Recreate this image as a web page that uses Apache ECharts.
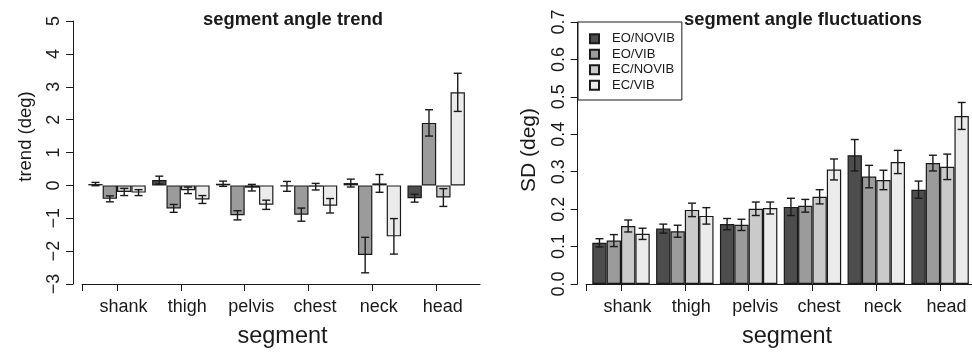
<!DOCTYPE html>
<html>
<head>
<meta charset="utf-8">
<script src="https://cdn.jsdelivr.net/npm/echarts@6/dist/echarts.min.js"></script>
<style>
  html, body { margin: 0; padding: 0; background: #fff; }
  #chart { width: 972px; height: 353px; }
</style>
</head>
<body>
<div id="chart"></div>
<script>
// Body segments and experimental conditions
const segments = ['shank', 'thigh', 'pelvis', 'chest', 'neck', 'head'];
const conditions = ['EO/NOVIB', 'EO/VIB', 'EC/NOVIB', 'EC/VIB'];

// Segment angle trend (deg): means and standard errors per condition
const trendEoNovib    = [0.04, 0.16, 0.05, -0.03, 0.07, -0.39];
const trendEoNovibErr = [0.05, 0.12, 0.08, 0.15, 0.12, 0.12];
const trendEoVib      = [-0.41, -0.70, -0.91, -0.89, -2.12, 1.90];
const trendEoVibErr   = [0.09, 0.12, 0.14, 0.20, 0.54, 0.40];
const trendEcNovib    = [-0.20, -0.15, -0.07, -0.04, 0.06, -0.37];
const trendEcNovibErr = [0.11, 0.10, 0.10, 0.10, 0.27, 0.27];
const trendEcVib      = [-0.22, -0.43, -0.59, -0.62, -1.55, 2.83];
const trendEcVibErr   = [0.09, 0.12, 0.14, 0.22, 0.54, 0.58];

// Segment angle fluctuations, SD (deg): means and standard errors per condition
const sdEoNovib    = [0.110, 0.148, 0.160, 0.206, 0.344, 0.252];
const sdEoNovibErr = [0.011, 0.012, 0.015, 0.023, 0.042, 0.023];
const sdEoVib      = [0.116, 0.141, 0.158, 0.209, 0.287, 0.323];
const sdEoVibErr   = [0.016, 0.016, 0.015, 0.017, 0.030, 0.021];
const sdEcNovib    = [0.155, 0.198, 0.201, 0.233, 0.278, 0.313];
const sdEcNovibErr = [0.016, 0.018, 0.018, 0.019, 0.026, 0.034];
const sdEcVib      = [0.134, 0.182, 0.203, 0.306, 0.326, 0.449];
const sdEcVibErr   = [0.015, 0.022, 0.016, 0.028, 0.031, 0.036];

// Axis ticks
const trendTicks = { min: -3, max: 5, interval: 1 };
const sdTicks = { min: 0, max: 0.7, interval: 0.1 };

const FONT = 'Liberation Sans, Arial, Helvetica, sans-serif';
const INK = '#1a1a1a';
const fills = ['#4d4d4d', '#9b9b9b', '#cacaca', '#ebebeb'];
const CAT_GAP = 0.10;   // fraction of each category band left empty

const trendMeans = [trendEoNovib, trendEoVib, trendEcNovib, trendEcVib];
const trendErrs = [trendEoNovibErr, trendEoVibErr, trendEcNovibErr, trendEcVibErr];
const sdMeans = [sdEoNovib, sdEoVib, sdEcNovib, sdEcVib];
const sdErrs = [sdEoNovibErr, sdEoVibErr, sdEcNovibErr, sdEcVibErr];

function barSeries(axis, idx, values) {
  return {
    name: conditions[idx],
    type: 'bar',
    xAxisIndex: axis, yAxisIndex: axis,
    data: values,
    barGap: '0%',
    barCategoryGap: (CAT_GAP * 100) + '%',
    itemStyle: { color: fills[idx], borderColor: INK, borderWidth: 1.2 },
    emphasis: { disabled: true },
    silent: true,
    z: 2
  };
}

function errorSeries(axis, idx, values, errs) {
  return {
    type: 'custom',
    xAxisIndex: axis, yAxisIndex: axis,
    data: values.map((v, i) => [i, v - errs[i], v + errs[i]]),
    silent: true,
    z: 5,
    renderItem(params, api) {
      const band = api.size([1, 0])[0];
      const bw = band * (1 - CAT_GAP) / 4;
      const lo = api.coord([api.value(0), api.value(1)]);
      const hi = api.coord([api.value(0), api.value(2)]);
      const x = lo[0] + (idx - 1.5) * bw;
      const cap = 4;
      const style = { stroke: INK, lineWidth: 1.4 };
      return {
        type: 'group',
        children: [
          { type: 'line', shape: { x1: x, y1: lo[1], x2: x, y2: hi[1] }, style },
          { type: 'line', shape: { x1: x - cap, y1: lo[1], x2: x + cap, y2: lo[1] }, style },
          { type: 'line', shape: { x1: x - cap, y1: hi[1], x2: x + cap, y2: hi[1] }, style }
        ]
      };
    }
  };
}

const axisLine = { show: true, lineStyle: { color: INK, width: 1 } };
const tickStyle = { show: true, length: 7, inside: false, lineStyle: { color: INK, width: 1 } };

function valueY(gridIndex, ticks, name, offset, nameSize, namePad) {
  return {
    type: 'value', gridIndex,
    min: ticks.min, max: ticks.max, interval: ticks.interval,
    offset,
    axisLine, axisTick: tickStyle,
    splitLine: { show: false },
    axisLabel: {
      rotate: 90, fontSize: 18, fontFamily: FONT, color: INK, margin: 10,
      formatter: v => ticks.interval < 1 ? v.toFixed(1) : String(v).replace('-', '\u2212')
    },
    name, nameLocation: 'middle', nameGap: 38,
    nameTextStyle: { fontSize: nameSize, fontFamily: FONT, color: INK, padding: namePad }
  };
}

function categoryX(gridIndex) {
  return {
    type: 'category', gridIndex, data: segments,
    position: 'bottom',
    axisLine: { show: false, onZero: false },
    axisTick: Object.assign({ alignWithLabel: true }, tickStyle),
    axisLabel: { fontSize: 18, fontFamily: FONT, color: INK, margin: 14, padding: [0, 0, 0, 13] },
    splitLine: { show: false }
  };
}

// Plain axis line with a single tick at its start
function frameX(gridIndex) {
  return {
    type: 'value', gridIndex, min: 0, max: 1,
    position: 'bottom',
    axisLine: { show: true, onZero: false, lineStyle: { color: INK, width: 1 } },
    axisTick: Object.assign({ customValues: [0] }, tickStyle),
    axisLabel: { show: false },
    splitLine: { show: false }
  };
}

function hiddenY(gridIndex) {
  return { type: 'value', gridIndex, min: 0, max: 1, show: false };
}

const series = [];
for (let k = 0; k < 4; k++) series.push(barSeries(0, k, trendMeans[k]));
for (let k = 0; k < 4; k++) series.push(errorSeries(0, k, trendMeans[k], trendErrs[k]));
for (let k = 0; k < 4; k++) series.push(barSeries(1, k, sdMeans[k]));
for (let k = 0; k < 4; k++) series.push(errorSeries(1, k, sdMeans[k], sdErrs[k]));

const titleStyle = { fontSize: 18.4, fontWeight: 'bold', fontFamily: FONT, color: INK };
const xNameStyle = { fontSize: 23.5, fontWeight: 'normal', fontFamily: FONT, color: INK };

const chart = echarts.init(document.getElementById('chart'), null, { renderer: 'canvas' });
chart.setOption({
  animation: false,
  backgroundColor: '#fff',
  title: [
    { text: 'segment angle trend', left: 293, top: 11, textAlign: 'center', padding: 0, textStyle: titleStyle },
    { text: 'segment angle fluctuations', left: 803, top: 11, textAlign: 'center', padding: 0, textStyle: titleStyle },
    { text: 'segment', left: 282.5, top: 325, textAlign: 'center', padding: 0, textStyle: xNameStyle },
    { text: 'segment', left: 787, top: 325, textAlign: 'center', padding: 0, textStyle: xNameStyle }
  ],
  legend: {
    data: conditions,
    orient: 'vertical',
    left: 578, top: 22,
    padding: [9, 7, 7, 11],
    itemGap: 0,
    itemWidth: 9, itemHeight: 9,
    icon: 'rect',
    borderColor: INK, borderWidth: 1,
    backgroundColor: '#fff',
    selectedMode: false,
    textStyle: { fontSize: 13, fontFamily: FONT, color: INK, lineHeight: 15.5, padding: [0, 0, 0, 8] },
    z: 10
  },
  grid: [
    { left: 85.1, width: 383, top: 21, height: 263 },
    { left: 589.1, width: 383, top: 22, height: 262 },
    { left: 82, width: 398, top: 21, height: 263 },
    { left: 586, width: 386, top: 22, height: 262 }
  ],
  xAxis: [categoryX(0), categoryX(1), frameX(2), frameX(3)],
  yAxis: [
    valueY(0, trendTicks, 'trend (deg)', 12, 18.5, [0, 0, 0, 32]),
    valueY(1, sdTicks, 'SD (deg)', 11.5, 21, [0, 0, 0, 6]),
    hiddenY(2), hiddenY(3)
  ],
  series
});
</script>
</body>
</html>
